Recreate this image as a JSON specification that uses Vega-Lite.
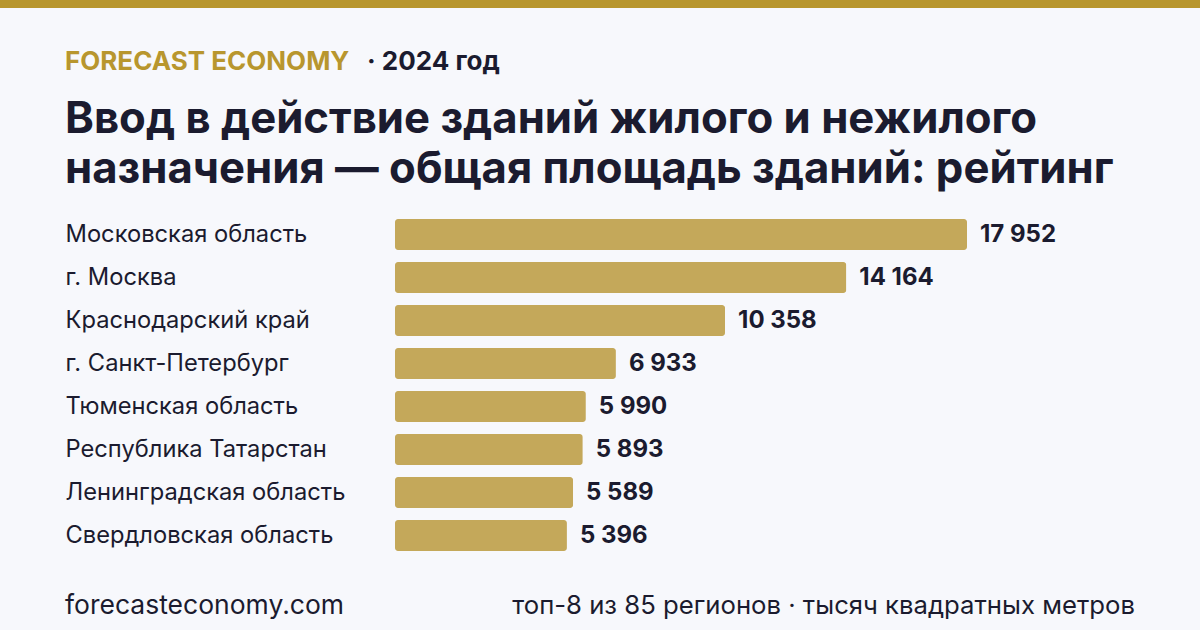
{
  "$schema": "https://vega.github.io/schema/vega-lite/v6.json",
  "background": "#f7f8fc",
  "padding": {"left": 0, "top": 0, "right": 0, "bottom": 12},
  "config": {
    "view": {"stroke": null},
    "font": "Inter",
    "locale": {"number": {"decimal": ",", "thousands": " ", "grouping": [3], "currency": ["", ""]}}
  },
  "vconcat": [
    {
      "width": 1200,
      "height": 8,
      "data": {"values": [{"k": 1}]},
      "mark": {"type": "rect", "color": "#b8962e"},
      "encoding": {}
    },
    {
      "spacing": 0,
      "vconcat": [
        {
          "spacing": 0,
          "hconcat": [
            {"width": 65, "height": 1, "data": {"values": []}, "mark": "rect", "encoding": {}},
            {
              "width": 302,
              "height": 2,
              "data": {"values": []},
              "mark": "rect",
              "encoding": {},
              "title": {"text": "FORECAST ECONOMY", "anchor": "start", "baseline": "alphabetic", "offset": 0, "fontSize": 26, "fontWeight": 700, "color": "#b8962e", "font": "Inter"}
            },
            {
              "width": 768,
              "height": 2,
              "data": {"values": []},
              "mark": "rect",
              "encoding": {},
              "title": {"text": "· 2024 год", "anchor": "start", "baseline": "alphabetic", "offset": 0, "fontSize": 26, "fontWeight": 700, "color": "#1b1b2f", "font": "Inter"}
            }
          ]
        },
        {
          "spacing": 0,
          "hconcat": [
            {"width": 65, "height": 1, "data": {"values": []}, "mark": "rect", "encoding": {}},
            {
              "width": 740,
              "height": 344,
              "title": {
                "text": ["Ввод в действие зданий жилого и нежилого", "назначения — общая площадь зданий: рейтинг"],
                "anchor": "start",
                "baseline": "alphabetic",
                "fontSize": 43.7,
                "fontWeight": 700,
                "lineHeight": 50,
                "color": "#1b1b2f",
                "font": "Inter",
                "offset": -14
              },
              "data": {
                "values": [
                  {"region": "Московская область", "value": 17952},
                  {"region": "г. Москва", "value": 14164},
                  {"region": "Краснодарский край", "value": 10358},
                  {"region": "г. Санкт-Петербург", "value": 6933},
                  {"region": "Тюменская область", "value": 5990},
                  {"region": "Республика Татарстан", "value": 5893},
                  {"region": "Ленинградская область", "value": 5589},
                  {"region": "Свердловская область", "value": 5396}
                ]
              },
              "encoding": {
                "y": {
                  "field": "region",
                  "type": "nominal",
                  "sort": null,
                  "scale": {"paddingInner": 0.28, "paddingOuter": 0.14},
                  "axis": {
                    "title": null,
                    "domain": false,
                    "ticks": false,
                    "tickSize": 0,
                    "labelAlign": "left",
                    "labelPadding": 330,
                    "labelFontSize": 23.7,
                    "labelColor": "#1b1b2f",
                    "labelFont": "Inter",
                    "labelLimit": 0
                  }
                }
              },
              "layer": [
                {
                  "mark": {"type": "bar", "color": "#c4a85a", "cornerRadius": 3},
                  "encoding": {
                    "x": {"field": "value", "type": "quantitative", "scale": {"domain": [0, 23224], "nice": false}, "axis": null}
                  }
                },
                {
                  "mark": {"type": "text", "align": "left", "baseline": "middle", "dx": 13, "fontSize": 24, "fontWeight": 700, "color": "#1b1b2f", "font": "Inter"},
                  "encoding": {
                    "x": {"field": "value", "type": "quantitative"},
                    "text": {"field": "value", "type": "quantitative", "format": ",d"}
                  }
                }
              ]
            }
          ]
        },
        {
          "spacing": 0,
          "hconcat": [
            {"width": 65, "height": 1, "data": {"values": []}, "mark": "rect", "encoding": {}},
            {
              "width": 400,
              "height": 1,
              "data": {"values": []},
              "mark": "rect",
              "encoding": {},
              "title": {"text": "forecasteconomy.com", "orient": "bottom", "anchor": "start", "baseline": "alphabetic", "offset": 56, "fontSize": 26.5, "fontWeight": 400, "color": "#1b1b2f", "font": "Inter"}
            },
            {
              "width": 670,
              "height": 1,
              "data": {"values": []},
              "mark": "rect",
              "encoding": {},
              "title": {"text": "топ-8 из 85 регионов · тысяч квадратных метров", "orient": "bottom", "anchor": "end", "baseline": "alphabetic", "offset": 56, "fontSize": 25.7, "fontWeight": 400, "color": "#1b1b2f", "font": "Inter"}
            }
          ]
        }
      ]
    }
  ],
  "spacing": 41
}
